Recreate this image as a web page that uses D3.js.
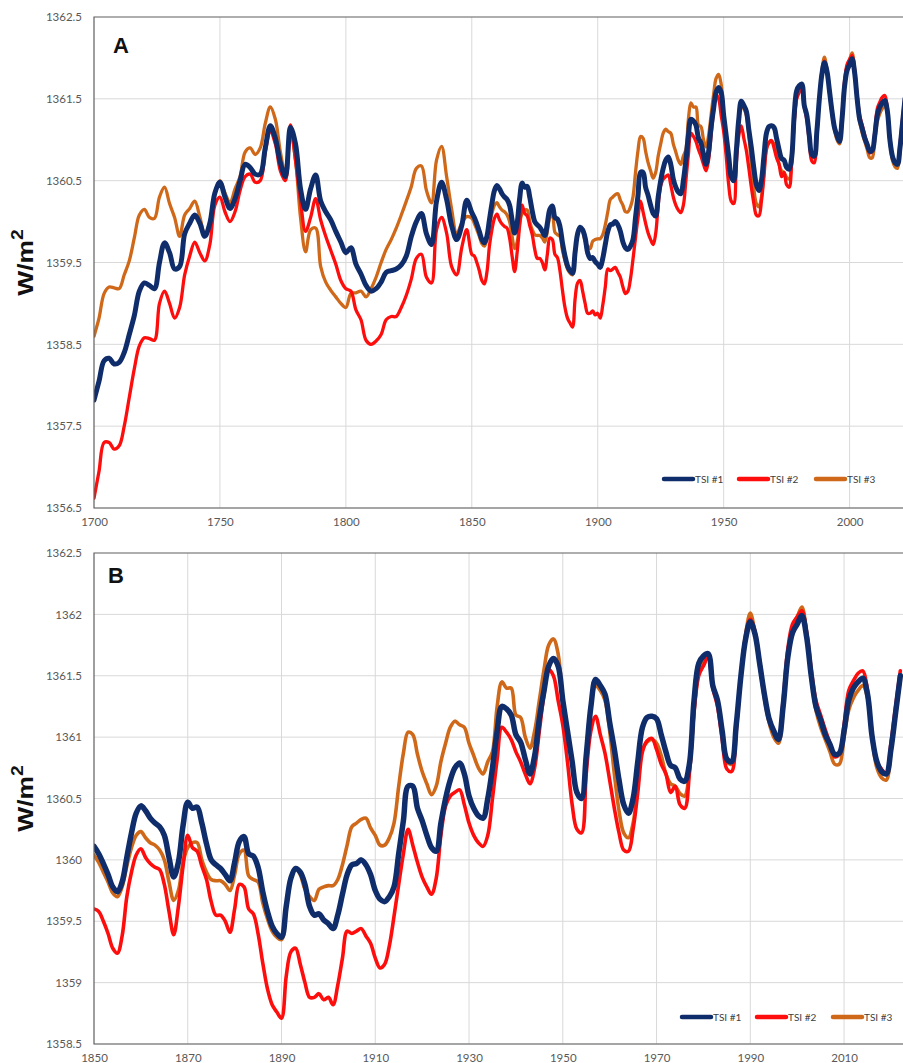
<!DOCTYPE html>
<html>
<head>
<meta charset="utf-8">
<script src="https://cdn.jsdelivr.net/npm/d3@7"></script>
<style>
  body { margin: 0; background: #fff; }
  svg { display: block; }
</style>
</head>
<body>
<svg id="chart"></svg>
<script>
// years: every 2 years up to 1848, then yearly
const years = d3.range(1700, 1850, 2).concat(d3.range(1850, 2023));

const tsi1 = [
  1357.82, 1358.05, 1358.30, 1358.33, 1358.26, 1358.28, 1358.40, 1358.62, 1358.85, 1359.15,
  1359.25, 1359.22, 1359.18, 1359.50, 1359.74, 1359.62, 1359.42, 1359.45, 1359.85, 1359.98,
  1360.08, 1359.98, 1359.82, 1359.98, 1360.35, 1360.48, 1360.30, 1360.16, 1360.28, 1360.50,
  1360.70, 1360.66, 1360.58, 1360.58, 1360.90, 1361.17, 1361.02, 1360.72, 1360.55, 1361.15,
  1360.95, 1360.40, 1360.15, 1360.40, 1360.57, 1360.25, 1360.12, 1360.02, 1359.88, 1359.75,
  1359.62, 1359.68, 1359.48, 1359.36, 1359.22, 1359.15, 1359.18, 1359.26, 1359.38, 1359.40,
  1359.42, 1359.47, 1359.58, 1359.82, 1360.00, 1360.10, 1359.85, 1359.72, 1360.25, 1360.48,
  1360.27, 1359.95, 1359.78, 1359.95, 1360.26,
  // 1850 onwards
  1360.11, 1360.05, 1359.97, 1359.88, 1359.78, 1359.74, 1359.82, 1360.02, 1360.22, 1360.38,
  1360.44, 1360.40, 1360.34, 1360.30, 1360.27, 1360.20, 1360.02, 1359.86, 1359.98, 1360.28,
  1360.47, 1360.42, 1360.43, 1360.30, 1360.13, 1360.00, 1359.96, 1359.93, 1359.88, 1359.83,
  1359.98, 1360.15, 1360.19, 1360.05, 1360.03, 1359.94, 1359.74, 1359.58, 1359.46, 1359.40,
  1359.37, 1359.62, 1359.85, 1359.93, 1359.90, 1359.80, 1359.62, 1359.55, 1359.56, 1359.51,
  1359.48, 1359.44, 1359.55, 1359.72, 1359.88, 1359.96, 1359.97, 1360.00, 1359.96, 1359.88,
  1359.75, 1359.68, 1359.66, 1359.70, 1359.78, 1360.05, 1360.32, 1360.60, 1360.60, 1360.42,
  1360.32, 1360.20, 1360.10, 1360.07, 1360.30, 1360.50, 1360.65, 1360.75, 1360.79, 1360.70,
  1360.52, 1360.42, 1360.36, 1360.34, 1360.50, 1360.75, 1361.05, 1361.25, 1361.23, 1361.18,
  1361.02, 1360.96, 1360.82, 1360.70, 1360.85, 1361.15, 1361.38, 1361.58, 1361.64, 1361.58,
  1361.30, 1361.05, 1360.80, 1360.55, 1360.50, 1360.85, 1361.25, 1361.47, 1361.42, 1361.35,
  1361.12, 1360.90, 1360.65, 1360.45, 1360.38, 1360.50, 1360.80, 1361.08, 1361.16, 1361.17,
  1361.15, 1361.02, 1360.88, 1360.77, 1360.75, 1360.66, 1360.64, 1360.78, 1361.30, 1361.60,
  1361.66, 1361.68, 1361.42, 1361.30, 1361.05, 1360.82, 1360.80, 1361.10, 1361.50, 1361.80,
  1361.94, 1361.84, 1361.60, 1361.35, 1361.15, 1361.05, 1360.98, 1361.25, 1361.65, 1361.85,
  1361.92, 1361.99, 1361.82, 1361.50, 1361.25, 1361.14, 1361.02, 1360.94, 1360.86, 1360.87,
  1361.05, 1361.30, 1361.40, 1361.45, 1361.48, 1361.35, 1361.00, 1360.80, 1360.72, 1360.70,
  1360.90, 1361.20, 1361.50
];

const tsi2 = [
  1356.62, 1356.95, 1357.30, 1357.30, 1357.22, 1357.26, 1357.50, 1357.85, 1358.20, 1358.48,
  1358.58, 1358.57, 1358.55, 1359.00, 1359.15, 1359.00, 1358.82, 1358.95, 1359.35, 1359.58,
  1359.75, 1359.62, 1359.52, 1359.72, 1360.20, 1360.30, 1360.12, 1360.00, 1360.12, 1360.38,
  1360.55, 1360.58, 1360.48, 1360.50, 1360.85, 1361.10, 1360.95, 1360.62, 1360.50, 1361.18,
  1360.75, 1360.25, 1359.88, 1360.05, 1360.28, 1360.02, 1359.82, 1359.65, 1359.48, 1359.28,
  1359.18, 1359.15, 1358.92, 1358.80, 1358.55, 1358.50, 1358.54, 1358.62, 1358.80, 1358.84,
  1358.84, 1358.95, 1359.10, 1359.30, 1359.55, 1359.60, 1359.32, 1359.25, 1359.90, 1360.05,
  1359.86, 1359.45, 1359.35, 1359.68, 1359.90,
  // 1850 onwards
  1359.60, 1359.58, 1359.50, 1359.40, 1359.28, 1359.24, 1359.38, 1359.70, 1359.90, 1360.04,
  1360.09, 1360.02, 1359.97, 1359.94, 1359.92, 1359.80, 1359.58, 1359.39, 1359.62, 1359.95,
  1360.20, 1360.10, 1360.07, 1359.95, 1359.84, 1359.66, 1359.55, 1359.55, 1359.50, 1359.41,
  1359.60, 1359.80, 1359.78, 1359.60, 1359.56, 1359.40, 1359.16, 1358.95, 1358.82, 1358.76,
  1358.71, 1359.05, 1359.25, 1359.28, 1359.15, 1359.00, 1358.88, 1358.88, 1358.91, 1358.86,
  1358.88, 1358.82, 1358.98, 1359.20, 1359.42, 1359.40, 1359.42, 1359.44, 1359.38, 1359.32,
  1359.20, 1359.12, 1359.15, 1359.30, 1359.54, 1359.80, 1360.05, 1360.25, 1360.12, 1359.98,
  1359.86, 1359.78, 1359.72, 1359.85, 1360.20, 1360.44, 1360.52, 1360.55, 1360.57, 1360.45,
  1360.30, 1360.20, 1360.14, 1360.11, 1360.20, 1360.50, 1360.82, 1361.08, 1361.04, 1360.98,
  1360.88, 1360.80, 1360.70, 1360.62, 1360.75, 1361.05, 1361.35, 1361.55, 1361.50, 1361.30,
  1361.10, 1360.80, 1360.45, 1360.25, 1360.22, 1360.70, 1361.05, 1361.17, 1361.02, 1360.87,
  1360.65, 1360.42, 1360.22, 1360.08, 1360.07, 1360.25, 1360.55, 1360.88, 1360.97, 1360.99,
  1360.90, 1360.78, 1360.70, 1360.55, 1360.60, 1360.45, 1360.42, 1360.70, 1361.20, 1361.50,
  1361.58, 1361.65, 1361.40, 1361.25, 1360.98, 1360.74, 1360.72, 1361.05, 1361.50, 1361.82,
  1361.96, 1361.86, 1361.62, 1361.36, 1361.16, 1361.05, 1361.00, 1361.30, 1361.72, 1361.92,
  1361.98, 1362.03, 1361.86, 1361.55, 1361.30, 1361.18, 1361.06, 1360.95, 1360.84, 1360.86,
  1361.10, 1361.38, 1361.46, 1361.52, 1361.54, 1361.38, 1361.02, 1360.80, 1360.74, 1360.70,
  1360.95, 1361.25, 1361.54
];

const tsi3 = [
  1358.60, 1358.82, 1359.12, 1359.20, 1359.19, 1359.18, 1359.35, 1359.52, 1359.80, 1360.08,
  1360.15, 1360.05, 1360.04, 1360.30, 1360.42, 1360.22, 1360.05, 1359.82, 1360.08, 1360.16,
  1360.25, 1360.06, 1359.84, 1360.00, 1360.35, 1360.50, 1360.35, 1360.23, 1360.40, 1360.55,
  1360.85, 1360.90, 1360.82, 1360.90, 1361.20, 1361.40, 1361.25, 1360.85, 1360.58, 1361.10,
  1360.75, 1360.05, 1359.63, 1359.90, 1359.92, 1359.45, 1359.26, 1359.16, 1359.08, 1359.00,
  1358.95, 1359.12, 1359.13, 1359.15, 1359.08, 1359.18, 1359.32, 1359.50, 1359.66, 1359.78,
  1359.92, 1360.08, 1360.25, 1360.43, 1360.65, 1360.68, 1360.38, 1360.23, 1360.75, 1360.92,
  1360.55, 1360.15, 1359.85, 1359.98, 1360.06,
  // 1850 onwards
  1360.04, 1359.98, 1359.90, 1359.82, 1359.73, 1359.70, 1359.78, 1359.95, 1360.10, 1360.20,
  1360.23, 1360.18, 1360.14, 1360.12, 1360.08, 1360.00, 1359.82, 1359.67, 1359.75, 1359.98,
  1360.10, 1360.14, 1360.14, 1360.00, 1359.90, 1359.84, 1359.83, 1359.83, 1359.80, 1359.75,
  1359.88, 1360.05, 1360.08, 1359.87, 1359.84, 1359.82, 1359.65, 1359.52, 1359.42, 1359.37,
  1359.35, 1359.60, 1359.85, 1359.93, 1359.88, 1359.76, 1359.70, 1359.67, 1359.76, 1359.78,
  1359.79, 1359.79, 1359.84, 1359.96, 1360.12, 1360.27, 1360.30, 1360.33, 1360.34, 1360.26,
  1360.20, 1360.12, 1360.12, 1360.18, 1360.30, 1360.60, 1360.87, 1361.04, 1361.02, 1360.86,
  1360.72, 1360.62, 1360.53, 1360.60, 1360.80, 1360.95, 1361.08, 1361.13, 1361.10, 1361.08,
  1360.95, 1360.85, 1360.75, 1360.70, 1360.80, 1360.88, 1361.25, 1361.45, 1361.40, 1361.40,
  1361.18, 1361.16, 1361.00, 1360.91, 1361.05, 1361.30, 1361.55, 1361.75, 1361.80, 1361.68,
  1361.28, 1361.00, 1360.80, 1360.55, 1360.50, 1360.88, 1361.26, 1361.42, 1361.38, 1361.30,
  1361.05, 1360.70, 1360.40, 1360.22, 1360.18, 1360.30, 1360.60, 1360.90, 1360.96, 1360.98,
  1360.95, 1360.85, 1360.70, 1360.62, 1360.60, 1360.54, 1360.52, 1360.72, 1361.22, 1361.52,
  1361.62, 1361.66, 1361.42, 1361.30, 1361.03, 1360.80, 1360.78, 1361.08, 1361.50, 1361.84,
  1362.01, 1361.85, 1361.58, 1361.32, 1361.12, 1361.00, 1360.95, 1361.22, 1361.66, 1361.90,
  1361.98, 1362.06, 1361.85, 1361.48, 1361.22, 1361.08, 1360.98, 1360.88, 1360.78, 1360.78,
  1361.00, 1361.22, 1361.32, 1361.38, 1361.42, 1361.32, 1360.98, 1360.75, 1360.67, 1360.65,
  1360.88, 1361.18, 1361.48
];

const seriesNames = ["TSI #1", "TSI #2", "TSI #3"];
const seriesColors = ["#102d6b", "#fe0d0d", "#cf6818"];

const yTicksA = [1356.5, 1357.5, 1358.5, 1359.5, 1360.5, 1361.5, 1362.5];
const xTicksA = [1700, 1750, 1800, 1850, 1900, 1950, 2000];
const yTicksB = [1358.5, 1359, 1359.5, 1360, 1360.5, 1361, 1361.5, 1362, 1362.5];
const xTicksB = [1850, 1870, 1890, 1910, 1930, 1950, 1970, 1990, 2010];

const series = [tsi1, tsi2, tsi3].map((vals, i) => ({
  name: seriesNames[i],
  color: seriesColors[i],
  values: years.map((y, j) => ({ year: y, value: vals[j] }))
}));

const width = 903, height = 1063;
const svg = d3.select("#chart").attr("width", width).attr("height", height);

const panels = [
  { label: "A", top: 17, bottom: 508, left: 94, right: 905,
    xDomain: [1700, 2022], yDomain: [1356.5, 1362.5], xTicks: xTicksA, yTicks: yTicksA,
    labelX: 113, labelY: 53, legendY: 479, legendX: [664, 739, 816],
    widths: [5, 3.3, 3.3] },
  { label: "B", top: 553, bottom: 1044, left: 94, right: 905,
    xDomain: [1850, 2023], yDomain: [1358.5, 1362.5], xTicks: xTicksB, yTicks: yTicksB,
    labelX: 108, labelY: 583, legendY: 1017, legendX: [682, 757, 833],
    widths: [5.5, 3.6, 3.6] }
];

const fontTicks = "Lato, 'Open Sans', sans-serif";

panels.forEach((p, pi) => {
  const x = d3.scaleLinear().domain(p.xDomain).range([p.left, p.right]);
  const y = d3.scaleLinear().domain(p.yDomain).range([p.bottom, p.top]);
  const g = svg.append("g");

  // gridlines
  g.append("g").selectAll("line.h").data(p.yTicks.slice(0, -1)).join("line")
    .attr("x1", p.left).attr("x2", p.right)
    .attr("y1", d => y(d)).attr("y2", d => y(d))
    .attr("stroke", "#d9d9d9").attr("stroke-width", 1);
  g.append("g").selectAll("line.v").data(p.xTicks.slice(1)).join("line")
    .attr("x1", d => x(d)).attr("x2", d => x(d))
    .attr("y1", p.top).attr("y2", p.bottom)
    .attr("stroke", "#d9d9d9").attr("stroke-width", 1);

  // axes
  const yAxis = g.append("g")
    .attr("transform", `translate(${p.left},0)`)
    .call(d3.axisLeft(y).tickValues(p.yTicks).tickSize(0).tickPadding(12).tickFormat(d3.format("")));
  yAxis.select(".domain").remove();
  yAxis.selectAll("text").attr("font-family", fontTicks).attr("font-size", 11.5).attr("fill", "#595959");

  const xAxis = g.append("g")
    .attr("transform", `translate(0,${p.bottom})`)
    .call(d3.axisBottom(x).tickValues(p.xTicks).tickSize(0).tickPadding(10).tickFormat(d3.format("d")));
  xAxis.select(".domain").remove();
  xAxis.selectAll("text").attr("font-family", fontTicks).attr("font-size", 11.5).attr("fill", "#595959");

  // clip for series
  const clipId = "clip" + p.label;
  svg.append("clipPath").attr("id", clipId).append("rect")
    .attr("x", p.left).attr("y", p.top).attr("width", p.right - p.left).attr("height", p.bottom - p.top);

  const line = d3.line()
    .x(d => x(d.year))
    .y(d => y(d.value))
    .curve(d3.curveCatmullRom.alpha(0.5));

  // draw orange, then red, then blue on top
  const lines = g.append("g").attr("clip-path", `url(#${clipId})`);
  [2, 1, 0].forEach(i => {
    const s = series[i];
    lines.append("path")
      .datum(s.values.filter(d => d.year >= p.xDomain[0]))
      .attr("fill", "none")
      .attr("stroke", s.color)
      .attr("stroke-width", p.widths[i])
      .attr("stroke-linejoin", "round")
      .attr("stroke-linecap", "round")
      .attr("d", line);
  });

  // frame: left, top, bottom
  g.append("path")
    .attr("d", `M${p.right},${p.top}H${p.left}V${p.bottom}H${p.right}`)
    .attr("fill", "none").attr("stroke", "#5f5f5f").attr("stroke-width", 1.2);

  // legend
  const leg = g.append("g");
  series.forEach((s, i) => {
    const lx = p.legendX[i];
    leg.append("line")
      .attr("x1", lx).attr("x2", lx + 29)
      .attr("y1", p.legendY).attr("y2", p.legendY)
      .attr("stroke", s.color).attr("stroke-width", 4.5).attr("stroke-linecap", "round");
    leg.append("text")
      .attr("x", lx + 31).attr("y", p.legendY).attr("dy", "0.35em")
      .attr("font-family", fontTicks).attr("font-size", 10).attr("fill", "#404040")
      .text(s.name);
  });

  // panel label
  g.append("text")
    .attr("x", p.labelX).attr("y", p.labelY)
    .attr("font-family", "'Liberation Sans', Arial, sans-serif")
    .attr("font-weight", "bold").attr("font-size", 22).attr("fill", "#111")
    .text(p.label);

  // y title
  const mid = (p.top + p.bottom) / 2;
  const title = g.append("text")
    .attr("transform", `translate(33,${mid}) rotate(-90) scale(1.2,1)`)
    .attr("text-anchor", "middle")
    .attr("font-family", "'Liberation Sans', Arial, sans-serif")
    .attr("font-weight", "bold").attr("font-size", 22).attr("fill", "#111");
  title.append("tspan").text("W/m");
  title.append("tspan").attr("dy", -10).attr("font-size", 16).text("2");
});
</script>
</body>
</html>
